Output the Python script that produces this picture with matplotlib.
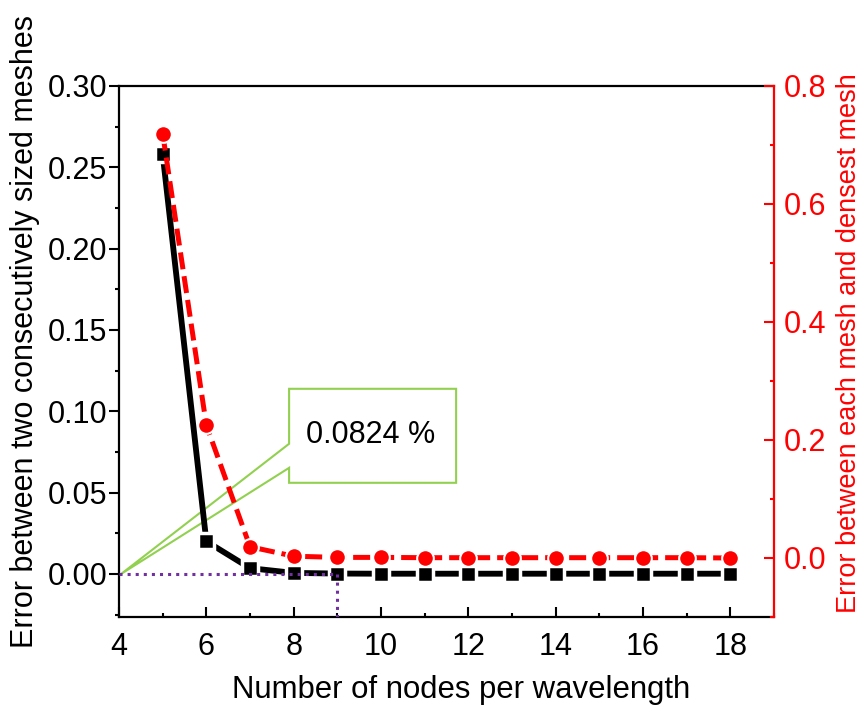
import matplotlib.pyplot as plt
from matplotlib.ticker import MultipleLocator
from matplotlib.patches import Polygon

plt.rcParams['font.family'] = ['Liberation Sans', 'DejaVu Sans']

nodes = [5, 6, 7, 8, 9, 10, 11, 12, 13, 14, 15, 16, 17, 18]
err_consecutive = [0.258, 0.020, 0.0035, 0.0006, 0.0002, 0.0001, 0.0001,
                   0.0001, 0.0001, 0.0001, 0.0001, 0.0001, 0.0001, 0.0001]
err_densest = [0.719, 0.225, 0.019, 0.003, 0.001, 0.001, 0.0005,
               0.0005, 0.0005, 0.0005, 0.0005, 0.0005, 0.0005, 0.0]

callout_text = "0.0824 %"
chosen_nodes = 9

GREEN = "#92D050"
PURPLE = "#7030A0"
TICK_FS = 22


def main():
    fig = plt.figure(figsize=(8.65, 7.19), dpi=100)
    ax = fig.add_axes([0.1376, 0.1419, 0.7572, 0.7385])
    ax2 = ax.twinx()

    # left axis: error between consecutive meshes
    ax.plot(nodes, err_consecutive, color="black", lw=4.2, zorder=3,
            marker="s", ms=11, mfc="black", mec="white", mew=2.5)

    # purple guide lines at the chosen mesh
    ax.plot([4, chosen_nodes], [0, 0], color=PURPLE, lw=2.2, ls=":", zorder=4)
    ax.plot([chosen_nodes, chosen_nodes], [0, -0.03], color=PURPLE, lw=2.2,
            ls=":", zorder=4)

    # green callout
    tip = (4.05, 0.0)
    bl, br, bb, bt = 7.895, 11.72, 0.056, 0.1138
    callout = Polygon([tip, (bl, 0.0652), (bl, bb), (br, bb), (br, bt),
                       (bl, bt), (bl, 0.080)], closed=True, fill=False,
                      edgecolor=GREEN, lw=1.5, zorder=1)
    ax.add_patch(callout)
    ax.text((bl + br) / 2 - 0.05, 0.0855, callout_text, fontsize=22,
            ha="center", va="center")

    ax.set_xlim(4, 19)
    ax.set_ylim(-0.0265, 0.30)
    ax.set_xticks(range(4, 19, 2))
    ax.xaxis.set_minor_locator(MultipleLocator(1))
    ax.yaxis.set_major_locator(MultipleLocator(0.05))
    ax.yaxis.set_minor_locator(MultipleLocator(0.025))
    ax.yaxis.set_major_formatter(plt.FormatStrFormatter("%.2f"))
    ax.tick_params(axis="x", which="both", direction="in", labelsize=TICK_FS,
                   width=1.5, pad=11)
    ax.tick_params(axis="x", which="major", length=7)
    ax.tick_params(axis="x", which="minor", length=3)
    ax.tick_params(axis="y", which="both", direction="out", labelsize=TICK_FS,
                   width=1.5, pad=1.5)
    ax.tick_params(axis="y", which="major", length=7)
    ax.tick_params(axis="y", which="minor", length=3)
    for s in ax.spines.values():
        s.set_linewidth(1.6)
    ax.spines["right"].set_visible(False)

    # right axis: error against densest mesh
    ax2.plot(nodes, err_densest, color="red", lw=3.6, dashes=(3.4, 1.4),
             zorder=3, marker="o", ms=12, mfc="red", mec="white", mew=1.5)
    ax2.set_ylim(-0.1, 0.8)
    ax2.yaxis.set_major_locator(MultipleLocator(0.2))
    ax2.yaxis.set_minor_locator(MultipleLocator(0.1))
    ax2.yaxis.set_major_formatter(plt.FormatStrFormatter("%.1f"))
    ax2.tick_params(axis="y", which="both", direction="in", labelsize=TICK_FS,
                    colors="red", width=1.5, pad=7)
    ax2.tick_params(axis="y", which="major", length=7)
    ax2.tick_params(axis="y", which="minor", length=3)
    for name in ["left", "top", "bottom"]:
        ax2.spines[name].set_visible(False)
    ax2.spines["right"].set_color("red")
    ax2.spines["right"].set_linewidth(1.6)

    # axis titles
    fig.text(0.533, 0.0403, "Number of nodes per wavelength", fontsize=22.4,
             ha="center", va="center")
    fig.text(0.0289, 0.5396, "Error between two consecutively sized meshes",
             fontsize=22, rotation=90, ha="center", va="center")
    fig.text(0.9815, 0.523, "Error between each mesh and densest mesh",
             fontsize=19.5, rotation=90, ha="center", va="center",
             color="red")

    fig.savefig("out.png", dpi=100)


if __name__ == "__main__":
    main()
